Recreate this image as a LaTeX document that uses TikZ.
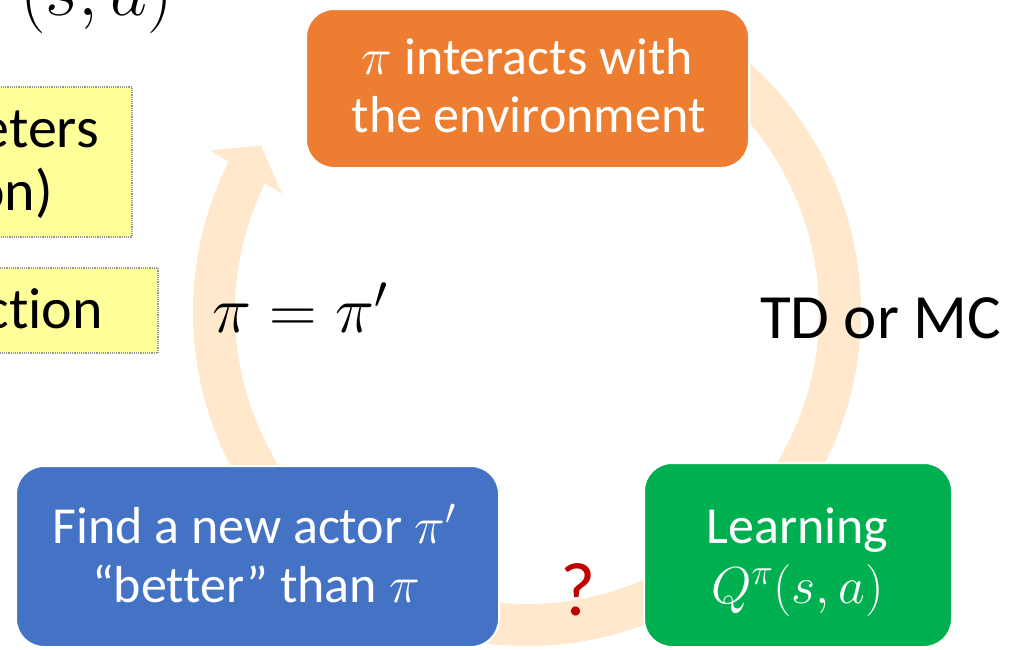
\RequirePackage{fix-cm}
\documentclass[tikz,border=0pt]{standalone}
\usepackage{fontspec}
\setmainfont{Carlito}[Ligatures={TeX,NoCommon}]
\definecolor{bandc}{RGB}{255,232,204}
\definecolor{orangeC}{RGB}{237,125,49}
\definecolor{blueC}{RGB}{68,114,196}
\definecolor{greenC}{RGB}{0,176,80}
\definecolor{yellowC}{RGB}{255,255,153}
\definecolor{redC}{RGB}{192,0,0}
\definecolor{grayC}{RGB}{150,150,150}
\tikzset{
  card/.style={draw=white, line width=2pt, rounded corners=28pt, inner sep=0pt},
  cardtext/.style={text=white, anchor=base, inner sep=0pt, font=\fontsize{52}{59}\selectfont},
  note/.style={fill=yellowC, draw=grayC, densely dotted, line width=1.2pt},
  notetext/.style={anchor=base east, inner sep=0pt, font=\fontsize{58}{64}\selectfont},
  band/.style={draw=bandc, line width=42pt},
}
\begin{document}
\begin{tikzpicture}[x=1pt,y=1pt]
\useasboundingbox (0,0) rectangle (1021,-649);
\clip (0,0) rectangle (1021,-649);
% cycle band
\coordinate (C) at (527,-312);
\draw[band] ([shift={(C)}]55:313) arc[start angle=55, end angle=-206.8, radius=313];
\fill[bandc] ([shift={(C)}]153:356) -- ([shift={(C)}]148:314) -- ([shift={(C)}]154.2:272) -- cycle;
% cards
\node[card, fill=orangeC, minimum width=443pt, minimum height=159pt] (env) at (527.5,-88.5) {};
\node[cardtext] (envA) at (527.5,-74) {$\pi$ interacts with};
\node[cardtext] (envB) at (528.5,-132) {the environment};
\node[card, fill=blueC, minimum width=483pt, minimum height=181pt] (actor) at (257.5,-556.5) {};
\node[cardtext] (actA) at (254,-543) {Find a new actor $\pi'$};
\node[cardtext] (actB) at (256,-602) {“better” than $\pi$};
\node[card, fill=greenC, minimum width=308pt, minimum height=184pt] (learn) at (798,-555) {};
\node[cardtext] (lrnA) at (797.5,-543) {Learning};
\node[cardtext] (lrnB) at (797.5,-603) {$Q^{\pi}(s,a)$};
% labels
\node[anchor=base west, inner sep=0pt, font=\fontsize{63}{70}\selectfont] (tdmc) at (760,-338) {TD or MC};
\node[anchor=base west, inner sep=0pt, font=\fontsize{66}{72}\selectfont] (upd) at (212,-332) {$\pi=\pi'$};
\node[anchor=base, inner sep=0pt, text=redC, font=\fontsize{76}{80}\selectfont] (q) at (578,-615) {?};
% cropped notes on the left
\path[note] (-10,-87) rectangle (132,-237);
\node[notetext] (n1a) at (99,-147) {eters};
\node[notetext] (n1b) at (53,-210) {on)};
\path[note] (-10,-268) rectangle (158,-353);
\node[notetext] (n2) at (103,-328) {ction};
\node[anchor=base west, inner sep=0pt, font=\fontsize{72}{78}\selectfont] (sa) at (20,-15) {$(s,a)$};
\end{tikzpicture}
\end{document}
